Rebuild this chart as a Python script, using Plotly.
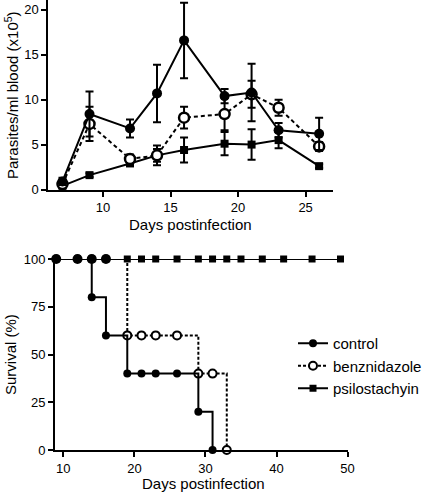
import plotly.graph_objects as go

W, H = 425, 496

# ---------- top chart data: parasitemia ----------
days_top = [7, 9, 12, 14, 16, 19, 21, 23, 26]
control_par = [0.9, 8.4, 6.8, 10.7, 16.6, 10.4, 10.8, 6.6, 6.2]
control_err = [0.4, 2.5, 1.0, 3.2, 4.2, 0.8, 3.2, 0.8, 1.8]
benz_par = [0.6, 7.3, 3.4, 3.8, 8.0, 8.4, 10.6, 9.1, 4.8]
benz_err = [0.3, 1.9, 0.5, 0.7, 1.2, 1.8, 1.5, 0.9, 0.5]
psilo_par = [0.4, 1.6, 2.9, 3.8, 4.4, 5.1, 5.0, 5.5, 2.6]
psilo_err = [0.2, 0.2, 0.2, 1.1, 1.4, 1.3, 1.7, 0.9, 0.2]
top_xticks = [10, 15, 20, 25]
top_yticks = [0, 5, 10, 15, 20]

# ---------- bottom chart data: survival ----------
control_days = [9, 12, 14, 14, 16, 19, 21, 23, 26, 29, 31]
control_surv = [100, 100, 100, 80, 60, 40, 40, 40, 40, 20, 0]
control_extra_days = [16]
control_extra_surv = [100]
benz_days = [9, 12, 14, 16, 19, 21, 23, 26, 29, 31, 33]
benz_surv = [100, 100, 100, 100, 60, 60, 60, 60, 40, 40, 0]
psilo_days = [9, 12, 14, 16, 19, 21, 23, 26, 29, 31, 33, 35, 38, 41, 45, 49]
psilo_surv = [100] * 16
bot_xticks = [10, 20, 30, 40, 50]
bot_yticks = [0, 25, 50, 75, 100]

FONT = "Liberation Sans, Arial, sans-serif"
BLACK = "black"

def px_x(p):
    return p / W

def px_y(p):
    return 1 - p / H

fig = go.Figure()

def err(arr):
    return dict(type="data", array=arr, visible=True, color=BLACK, thickness=2, width=4)

# top chart traces (order: psilo, benz, control)
fig.add_trace(go.Scatter(x=days_top, y=psilo_par, error_y=err(psilo_err), mode="lines+markers",
                         line=dict(color=BLACK, width=2),
                         marker=dict(symbol="square", size=8, color=BLACK),
                         xaxis="x", yaxis="y", showlegend=False, cliponaxis=False))
fig.add_trace(go.Scatter(x=days_top, y=benz_par, error_y=err(benz_err), mode="lines+markers",
                         line=dict(color=BLACK, width=2, dash="4px,3px"),
                         marker=dict(symbol="circle", size=10, color="white", line=dict(color=BLACK, width=2.5)),
                         xaxis="x", yaxis="y", showlegend=False, cliponaxis=False))
fig.add_trace(go.Scatter(x=days_top, y=control_par, error_y=err(control_err), mode="lines+markers",
                         line=dict(color=BLACK, width=2),
                         marker=dict(symbol="circle", size=10, color=BLACK),
                         xaxis="x", yaxis="y", showlegend=False, cliponaxis=False))

# bottom chart traces
fig.add_trace(go.Scatter(x=psilo_days, y=psilo_surv, mode="lines+markers", name="psilostachyin",
                         line=dict(color=BLACK, width=2, shape="hv"),
                         marker=dict(symbol="square", size=7, color=BLACK),
                         xaxis="x2", yaxis="y2", legendrank=3, cliponaxis=False))
fig.add_trace(go.Scatter(x=benz_days, y=benz_surv, mode="lines+markers", name="benznidazole",
                         line=dict(color=BLACK, width=2, shape="hv", dash="3px,2px"),
                         marker=dict(symbol="circle", size=8, color="white", line=dict(color=BLACK, width=2)),
                         xaxis="x2", yaxis="y2", legendrank=2, cliponaxis=False))
fig.add_trace(go.Scatter(x=control_days, y=control_surv, mode="lines+markers", name="control",
                         line=dict(color=BLACK, width=2, shape="hv"),
                         marker=dict(symbol="circle", size=8, color=BLACK),
                         xaxis="x2", yaxis="y2", legendrank=1, cliponaxis=False))
fig.add_trace(go.Scatter(x=control_extra_days, y=control_extra_surv, mode="markers",
                         marker=dict(symbol="circle", size=8, color=BLACK),
                         xaxis="x2", yaxis="y2", showlegend=False, cliponaxis=False))

axis_common = dict(showline=True, linecolor=BLACK, linewidth=2, ticks="outside", ticklen=5,
                   tickwidth=2, tickcolor=BLACK, showgrid=False, zeroline=False, automargin=False,
                   tickfont=dict(family=FONT, size=13, color=BLACK))

fig.update_layout(
    width=W, height=H,
    margin=dict(l=0, r=0, t=0, b=0, autoexpand=False),
    paper_bgcolor="white", plot_bgcolor="white",
    font=dict(family=FONT, color=BLACK),
    xaxis=dict(domain=[px_x(48.3), px_x(333.3)], range=[5.95, 27.05], tickvals=top_xticks,
               anchor="y", **axis_common),
    yaxis=dict(domain=[px_y(189.5), 1.0], range=[0, 21.1], tickvals=top_yticks,
               anchor="x", **axis_common),
    xaxis2=dict(domain=[px_x(55), px_x(348.3)], range=[8.83, 50.1], tickvals=bot_xticks,
                anchor="y2", **axis_common),
    yaxis2=dict(domain=[px_y(450), px_y(259)], range=[0, 100], tickvals=bot_yticks,
                anchor="x2", **axis_common),
    legend=dict(x=px_x(293), y=px_y(327), xanchor="left", yanchor="top",
                font=dict(family=FONT, size=15, color=BLACK), bgcolor="rgba(0,0,0,0)",
                tracegroupgap=0, itemwidth=30),
    annotations=[
        dict(text="Parasites/ml blood (x10<sup>5</sup>)", x=px_x(11), y=px_y(95), xref="paper", yref="paper",
             textangle=-90, showarrow=False, font=dict(family=FONT, size=15, color=BLACK),
             xanchor="center", yanchor="middle"),
        dict(text="Days postinfection", x=px_x(190), y=px_y(224), xref="paper", yref="paper",
             showarrow=False, font=dict(family=FONT, size=15, color=BLACK),
             xanchor="center", yanchor="middle"),
        dict(text="Survival (%)", x=px_x(10), y=px_y(355), xref="paper", yref="paper",
             textangle=-90, showarrow=False, font=dict(family=FONT, size=15, color=BLACK),
             xanchor="center", yanchor="middle"),
        dict(text="Days postinfection", x=px_x(203), y=px_y(483), xref="paper", yref="paper",
             showarrow=False, font=dict(family=FONT, size=15, color=BLACK),
             xanchor="center", yanchor="middle"),
    ],
)

fig.write_html("out.html", config={"displayModeBar": False},
               post_script="document.body.style.margin='0';")
